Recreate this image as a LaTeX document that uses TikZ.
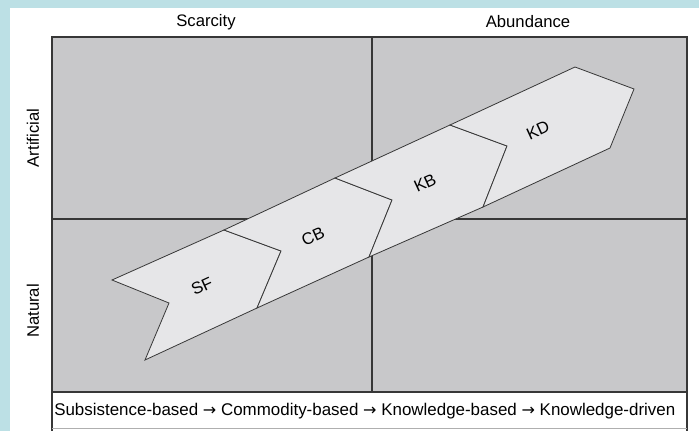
\documentclass[tikz,border=0pt]{standalone}
\usepackage{fontspec}
\setmainfont{Liberation Sans}
\newfontfamily\arrowfont{DejaVu Sans}
\newcommand{\stepto}{{\arrowfont\fontsize{12}{15}\selectfont →}}
\definecolor{framecyan}{RGB}{188,224,229}
\definecolor{quadgray}{RGB}{200,200,202}
\definecolor{bandgray}{RGB}{230,230,232}
\definecolor{edgegray}{RGB}{55,55,55}
\begin{document}
\begin{tikzpicture}[x=0.75pt, y=-0.75pt,
every node/.style={font=\fontsize{12.5}{15}\selectfont, inner sep=0pt},
quad/.style={draw=edgegray, fill=quadgray, line width=1.1pt},
split/.style={draw=edgegray, line width=0.8pt},
seg/.style={draw=edgegray, fill=bandgray, line width=0.6pt, line join=miter},
tag/.style={rotate=24.7}]
\fill[framecyan] (0,0) rectangle (699,431);
\fill[white] (10,8) rectangle (699,431);
\useasboundingbox (0,0) rectangle (699,431);
\draw[quad] (52,37) rectangle (687,392);
\draw[split] (372,37) -- (372,392);
\draw[split] (52,219) -- (687,219);
\draw[draw=edgegray, line width=1.1pt] (52,392) -- (52,431);
\draw[draw=edgegray, line width=1.1pt] (687,392) -- (687,431);
\draw[draw=edgegray!40, line width=0.5pt] (52,428) -- (687,428);
\node (scarcity) at (206,22) {Scarcity};
\node (abundance) at (528,22) {Abundance};
\node[rotate=90] (artificial) at (33,138) {Artificial};
\node[rotate=90] (natural) at (33,311) {Natural};
\coordinate (t0) at (112,280); \coordinate (n0) at (169,303); \coordinate (b0) at (145,360);
\coordinate (t1) at (224,230); \coordinate (n1) at (281,251); \coordinate (b1) at (257,308);
\coordinate (t2) at (335,178); \coordinate (n2) at (392,200); \coordinate (b2) at (369,257);
\coordinate (t3) at (450,125); \coordinate (n3) at (507,146); \coordinate (b3) at (483,207);
\coordinate (t4) at (575,67); \coordinate (n4) at (634,89); \coordinate (b4) at (610,148);
\foreach \a/\b in {0/1,1/2,2/3,3/4}
  \draw[seg] (t\a) -- (t\b) -- (n\b) -- (b\b) -- (b\a) -- (n\a) -- cycle;
\node[tag] (sf) at (202,286) {SF};
\node[tag] (cb) at (313,236) {CB};
\node[tag] (kb) at (425,183) {KB};
\node[tag] (kd) at (538,130) {KD};
\node[anchor=west, font=\fontsize{12.7}{15}\selectfont] (path) at (54,411) {Subsistence-based \stepto{} Commodity-based \stepto{} Knowledge-based \stepto{} Knowledge-driven};
\end{tikzpicture}
\end{document}
